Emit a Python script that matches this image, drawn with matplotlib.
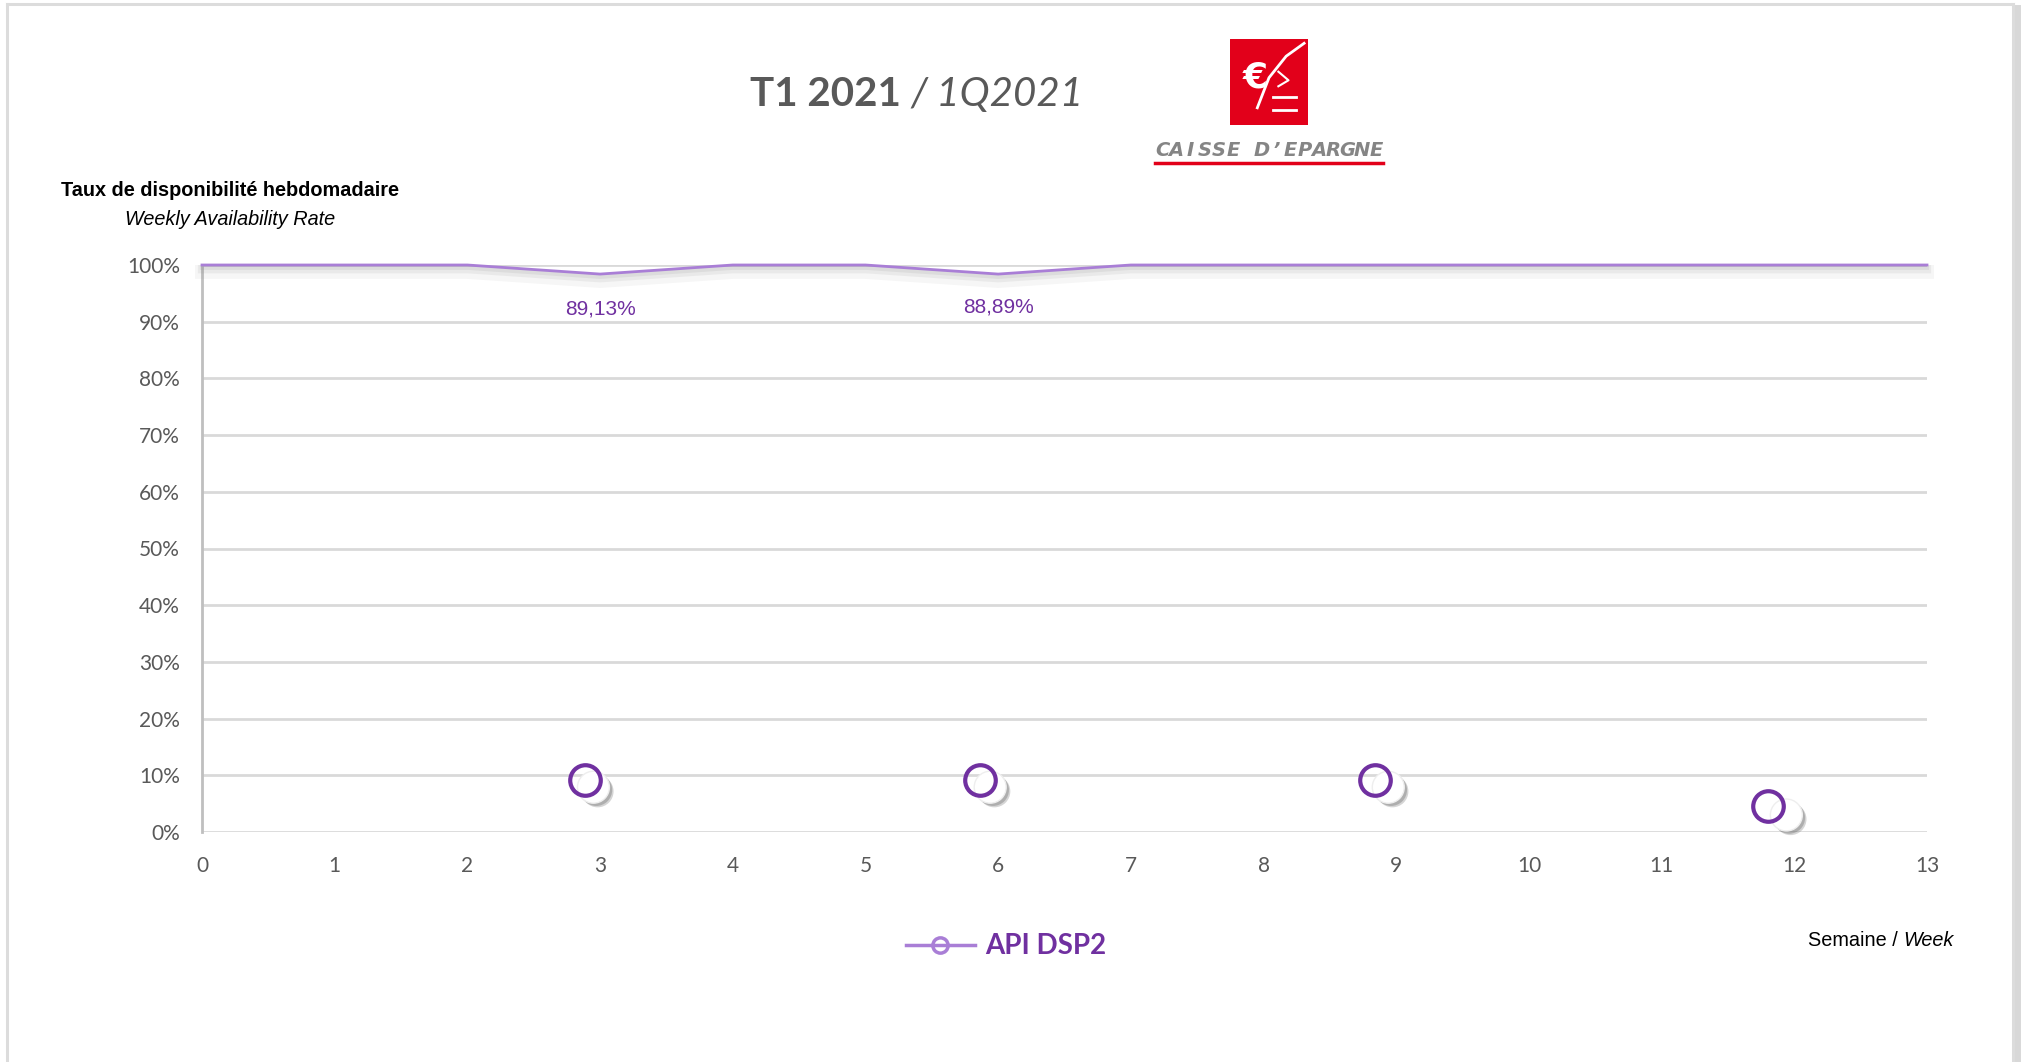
import matplotlib
matplotlib.use("Agg")
import matplotlib.pyplot as plt
import matplotlib.patheffects as pe
from matplotlib.lines import Line2D
import numpy as np

# ---------------- data ----------------
weeks = list(range(0, 14))
availability = [100, 100, 100, 98.4, 100, 100, 98.4, 100, 100, 100, 100, 100, 100, 100]
label_weeks = [3, 6]
label_texts = ["89,13%", "88,89%"]
label_y = [92.3, 92.6]

circle_x = [2.89, 5.86, 8.84, 11.80]
circle_y = [9.2, 9.2, 9.2, 4.6]
shadow_x = [2.95, 5.94, 8.94, 11.94]
shadow_y = [7.9, 7.9, 7.9, 3.0]

yticks = [0, 10, 20, 30, 40, 50, 60, 70, 80, 90, 100]
ytick_labels = [f"{v}%" for v in yticks]
xticks = list(range(0, 14))

series_name = "API DSP2"
title_bold = "T1 2021"
title_italic = "1Q2021"

PURPLE = "#7030A0"
LAVENDER = "#A97ED6"
GRID = "#D9D9D9"
GRAYTXT = "#595959"

W, H = 2026, 1062
fig = plt.figure(figsize=(W / 100, H / 100), dpi=100)
fig.patch.set_facecolor("white")

def fx(px):
    return px / W

def fy(py):
    return 1 - py / H

# outer frame
fig.add_artist(Line2D([fx(7), fx(7)], [fy(4), fy(1062)], color="#DCDCDC", lw=2.2))
fig.add_artist(Line2D([fx(7), fx(2013)], [fy(4), fy(4)], color="#DCDCDC", lw=2.2))
fig.add_artist(Line2D([fx(2017), fx(2017)], [fy(8), fy(1062)], color="#C8C8C8", lw=5, alpha=0.7))
fig.add_artist(Line2D([fx(2013), fx(2013)], [fy(4), fy(1062)], color="#DCDCDC", lw=2.2))

ax = fig.add_axes([fx(202), fy(832), fx(1927) - fx(202), fy(265) - fy(832)])
ax.set_xlim(0, 13)
ax.set_ylim(0, 100)

for v in yticks:
    ax.axhline(v, color=GRID, lw=2, zorder=1)

for s in ["top", "right"]:
    ax.spines[s].set_visible(False)
ax.spines["bottom"].set_visible(False)
ax.spines["left"].set_color("#BFBFBF")
ax.spines["left"].set_linewidth(2)

ax.set_yticks(yticks)
ax.set_yticklabels(ytick_labels)
ax.set_xticks(xticks)
ax.set_xticklabels([str(x) for x in xticks])
ax.tick_params(axis="both", length=0, labelsize=15, labelcolor=GRAYTXT)
ax.tick_params(axis="y", pad=16)
ax.tick_params(axis="x", pad=17)
for lab in ax.get_xticklabels() + ax.get_yticklabels():
    lab.set_family(["Lato", "DejaVu Sans"])

# main line with soft shadow
ax.plot(weeks, availability, color=LAVENDER, lw=2, zorder=4, clip_on=False,
        path_effects=[pe.SimpleLineShadow(offset=(0, -5), shadow_color="gray", alpha=0.07, linewidth=10),
                      pe.SimpleLineShadow(offset=(0, -3), shadow_color="gray", alpha=0.10, linewidth=6),
                      pe.SimpleLineShadow(offset=(0, -2), shadow_color="gray", alpha=0.12, linewidth=3),
                      pe.Normal()])

for wx, ty, txt in zip(label_weeks, label_y, label_texts):
    ax.text(wx, ty, txt, ha="center", va="center", color=PURPLE, fontsize=15,
            family=["Liberation Sans Narrow", "Liberation Sans", "DejaVu Sans"], zorder=5)

# shadow circles (white with grey drop shadow)
ax.plot(shadow_x, shadow_y, ls="none", marker="o", ms=23, mfc="white", mec="#EEEEEE", mew=1,
        zorder=5, clip_on=False,
        path_effects=[pe.SimplePatchShadow(offset=(3, -3), shadow_rgbFace="#777777", alpha=0.3),
                      pe.SimplePatchShadow(offset=(2, -2), shadow_rgbFace="#555555", alpha=0.3),
                      pe.Normal()])
# purple hollow circles
ax.plot(circle_x, circle_y, ls="none", marker="o", ms=22, mfc="none", mec=PURPLE, mew=3,
        zorder=6, clip_on=False)

# ---------------- texts ----------------
t1 = fig.text(fx(750), fy(94), title_bold + " ", ha="left", va="center", fontsize=29,
              fontweight="bold", color=GRAYTXT, family=["Lato", "DejaVu Sans"])
fig.canvas.draw()
bb = t1.get_window_extent()
fig.text(bb.x1 / W, fy(94), "/ " + title_italic, ha="left", va="center", fontsize=29,
         fontstyle="italic", color=GRAYTXT, family=["Lato", "DejaVu Sans"])

fig.text(fx(61), fy(190), "Taux de disponibilité hebdomadaire", ha="left", va="center",
         fontsize=14.3, fontweight="bold", color="black", family=["Liberation Sans", "DejaVu Sans"])
fig.text(fx(125), fy(220), "Weekly Availability Rate", ha="left", va="center",
         fontsize=14.3, fontstyle="italic", color="black", family=["Liberation Sans", "DejaVu Sans"])

s1 = fig.text(fx(1954), fy(940), "Week", ha="right", va="center", fontsize=14.3,
              fontstyle="italic", color="black", family=["Liberation Sans", "DejaVu Sans"])
fig.canvas.draw()
bb = s1.get_window_extent()
fig.text(bb.x0 / W, fy(940), "Semaine / ", ha="right", va="center", fontsize=14.3,
         color="black", family=["Liberation Sans", "DejaVu Sans"])

# legend
fig.add_artist(Line2D([fx(906), fx(975)], [fy(945), fy(945)], color=LAVENDER, lw=2.5))
fig.add_artist(Line2D([fx(940)], [fy(945)], marker="o", ms=11, mfc="none", mec=LAVENDER, mew=2.5))
fig.text(fx(985), fy(946), series_name, ha="left", va="center", fontsize=20, fontweight="bold",
         color=PURPLE, family=["Lato", "DejaVu Sans"])

# logo
lax = fig.add_axes([fx(1230), fy(125), fx(1308) - fx(1230), fy(39) - fy(125)])
lax.set_xlim(0, 1)
lax.set_ylim(0, 1)
lax.axis("off")
lax.add_patch(plt.Rectangle((0, 0), 1, 1, color="#E2001A"))
lax.text(0.32, 0.55, "€", color="white", fontsize=26, fontweight="bold", ha="center", va="center",
         family=["DejaVu Sans"])
lax.plot([0.35, 0.5, 0.72, 0.95], [0.2, 0.55, 0.8, 0.95], color="white", lw=2)
lax.plot([0.55, 0.85], [0.32, 0.32], color="white", lw=2)
lax.plot([0.55, 0.85], [0.18, 0.18], color="white", lw=2)
lax.plot([0.62, 0.75, 0.62], [0.62, 0.52, 0.45], color="white", lw=1.5)

logo_text = "CAISSE D’EPARGNE"
xs = np.linspace(1162, 1376, len(logo_text))
for ch, xp in zip(logo_text, xs):
    fig.text(fx(xp), fy(150), ch, ha="center", va="center", fontsize=14, color="#858585",
             fontstyle="italic", fontweight="bold", family=["DejaVu Sans"])
fig.add_artist(Line2D([fx(1155), fx(1383)], [fy(163), fy(163)], color="#E2001A", lw=2.5))

fig.savefig("out.png", dpi=100, facecolor="white")
